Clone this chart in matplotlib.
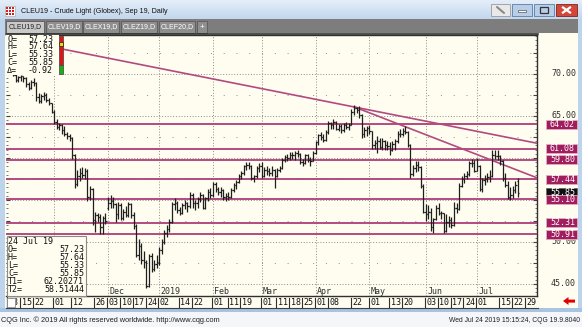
import numpy as np
import pandas as pd
import matplotlib
matplotlib.use("Agg")
import matplotlib.pyplot as plt
import matplotlib.transforms as mtransforms
from matplotlib.collections import LineCollection
from matplotlib.patches import Rectangle, Polygon
from matplotlib.colors import LinearSegmentedColormap
from matplotlib import font_manager

# ---------------- data (CLEU19, daily bars) ----------------
first_day, last_day = "2018-10-08", "2019-07-24"
holidays = ["2018-11-22", "2018-12-25", "2019-01-01", "2019-01-21",
            "2019-02-18", "2019-04-19", "2019-05-27", "2019-07-04"]

opens = [70.6, 70.5, 71.0, 69.9, 69.3, 69.6, 69.7, 69.5, 68.8, 68.3, 69.0, 68.9, 67.2, 66.8, 67.4, 67.5, 66.9, 66.5,
         65.5, 64.3, 63.7, 63.9, 63.3, 62.9, 62.6, 62.4, 60.3, 56.9, 57.9, 58.2, 58.0, 58.5, 55.3, 56.3, 52.6, 53.2, 53.0, 51.8, 52.8,
         54.0, 54.6, 54.9, 54.5, 53.3, 54.4, 52.9, 53.6, 53.2, 54.5, 53.2, 51.9, 48.5, 49.5, 47.9, 47.6, 44.8, 48.3, 46.8, 47.4,
         47.6, 49.0, 50.0, 51.1, 51.6, 52.4, 54.5, 54.7, 53.8, 53.5, 54.4, 54.6, 54.3, 55.6, 54.6, 54.7, 55.1, 55.6, 54.1, 55.2, 55.9,
         55.6, 56.9, 56.3, 55.9, 56.2, 55.3, 55.5, 55.3, 56.2, 56.8, 57.2, 57.9, 58.2, 59.0, 59.2, 59.0, 57.6, 57.8, 58.8,
         59.0, 57.9, 58.6, 58.5, 58.2, 58.6, 57.9, 58.6, 58.8, 59.8, 60.1, 60.0, 60.4, 60.3, 60.6, 60.5, 59.5, 59.4, 60.3, 59.8, 59.7,
         60.6, 61.9, 62.7, 62.5, 62.2, 63.1, 64.2, 64.0, 64.3, 63.5, 63.8, 63.3, 63.9, 63.7, 63.9, 65.5, 66.0, 65.7, 65.1, 62.8, 63.3,
         63.6, 63.2, 61.5, 61.8, 62.0, 61.3, 62.0, 61.5, 61.4, 60.9, 61.7, 62.0, 62.9, 62.8, 63.2, 63.1, 61.6, 58.1, 58.8, 59.2, 58.9, 56.7,
         53.6, 53.3, 53.6, 51.8, 52.7, 54.1, 53.4, 53.4, 51.3, 52.4, 52.6, 52.0, 54.0, 53.9, 56.7, 57.5, 57.9, 58.1, 59.4, 59.4,
         58.5, 59.1, 56.3, 57.4, 57.5, 57.7, 57.9, 60.4, 60.2, 60.2, 59.6, 57.6, 56.8, 55.3, 55.6, 56.2, 57.23]
highs = [71.2, 71.3, 71.1, 70.0, 69.8, 69.9, 69.8, 69.6, 69.0, 69.3, 69.5, 69.0, 67.7, 67.6, 67.8, 67.7, 67.1, 66.6,
         65.7, 64.6, 64.2, 64.0, 63.8, 63.1, 62.8, 62.5, 60.5, 58.6, 58.8, 58.9, 58.8, 58.7, 56.7, 56.4, 53.6, 53.5, 53.3, 53.1, 53.4,
         55.4, 55.6, 55.3, 54.7, 54.8, 54.6, 53.9, 54.3, 54.8, 54.6, 53.6, 52.1, 50.4, 49.9, 48.9, 47.9, 48.6, 48.7, 47.9, 48.4,
         49.4, 50.3, 51.4, 52.0, 52.7, 54.8, 55.2, 54.9, 54.2, 54.6, 55.0, 54.8, 55.9, 55.8, 55.0, 55.4, 55.9, 55.7, 55.4, 56.3, 56.4,
         57.1, 57.2, 56.6, 56.5, 56.3, 55.8, 56.0, 56.4, 57.0, 57.4, 58.1, 58.5, 59.2, 59.5, 59.5, 59.2, 58.0, 59.0, 59.4,
         59.5, 58.9, 59.0, 58.8, 59.0, 58.7, 58.8, 59.1, 60.0, 60.4, 60.5, 60.7, 60.7, 60.8, 60.9, 60.6, 59.9, 60.5, 60.5, 60.1, 60.8,
         62.0, 62.8, 63.1, 62.8, 63.3, 64.4, 64.3, 64.6, 64.4, 64.1, 64.0, 64.2, 64.3, 64.2, 65.8, 66.3, 66.1, 66.2, 65.2, 63.7, 63.8,
         63.9, 63.2, 62.2, 62.6, 62.4, 62.4, 62.2, 62.0, 61.9, 62.0, 62.3, 63.2, 63.4, 63.6, 63.8, 63.2, 61.7, 59.2, 59.6, 59.6, 59.0, 56.9,
         54.5, 54.4, 54.0, 52.9, 54.4, 54.6, 53.7, 53.5, 53.3, 53.1, 53.0, 54.8, 54.6, 57.0, 57.9, 58.2, 58.4, 59.6, 59.9, 59.8,
         60.0, 59.2, 57.6, 58.0, 58.2, 58.6, 60.9, 61.0, 60.9, 60.4, 59.8, 58.2, 57.3, 56.5, 56.7, 57.3, 57.64]
lows = [70.1, 70.2, 69.7, 69.0, 69.1, 69.2, 69.1, 68.5, 68.1, 68.2, 68.6, 66.8, 66.5, 66.6, 66.9, 66.7, 66.3, 65.3,
        64.0, 63.4, 63.3, 62.9, 62.6, 62.3, 62.0, 59.9, 56.4, 56.7, 57.3, 57.6, 57.5, 54.9, 55.0, 52.0, 51.2, 52.4, 50.9, 51.0, 52.2,
        53.8, 54.0, 54.0, 52.4, 52.7, 52.6, 52.6, 53.0, 53.0, 52.9, 51.6, 48.2, 47.9, 47.4, 46.9, 44.5, 44.6, 46.4, 46.6, 46.9,
        47.3, 48.6, 49.8, 50.6, 51.2, 52.3, 53.8, 53.5, 53.2, 53.3, 53.9, 53.6, 54.1, 54.0, 53.8, 54.1, 54.8, 53.9, 53.9, 54.9, 55.2,
        55.4, 56.0, 55.6, 55.4, 55.0, 54.9, 55.0, 55.2, 55.9, 56.3, 57.0, 57.5, 58.0, 58.6, 58.7, 57.4, 57.1, 57.6, 58.3,
        57.6, 57.7, 58.0, 57.9, 57.9, 56.4, 57.7, 58.3, 58.7, 59.5, 59.7, 59.8, 59.9, 59.8, 60.1, 59.3, 59.0, 59.3, 59.5, 59.1, 59.6,
        60.5, 61.6, 62.1, 61.9, 62.0, 62.9, 63.5, 63.5, 63.3, 63.2, 63.0, 63.1, 63.4, 63.3, 63.9, 65.1, 65.3, 64.8, 62.4, 62.5, 62.6,
        62.9, 61.1, 61.1, 60.6, 61.1, 61.0, 60.9, 61.0, 60.4, 60.8, 61.0, 61.8, 62.5, 62.6, 62.8, 61.3, 57.6, 57.8, 58.3, 58.4, 56.4, 53.4,
        52.5, 52.7, 51.3, 51.1, 52.6, 53.2, 52.7, 51.1, 51.2, 51.8, 51.7, 51.9, 53.5, 53.8, 56.6, 57.0, 57.5, 57.9, 58.9, 58.3,
        58.4, 56.1, 56.0, 56.8, 57.1, 57.2, 57.7, 59.9, 59.8, 59.2, 57.3, 56.6, 55.1, 55.0, 55.2, 55.8, 55.33]
closes = [70.5, 71.0, 69.9, 69.3, 69.6, 69.7, 69.5, 68.8, 68.3, 69.0, 68.9, 67.2, 66.8, 67.4, 67.5, 66.9, 66.5, 65.5,
          64.3, 63.7, 63.9, 63.3, 62.9, 62.6, 62.4, 60.3, 56.9, 57.9, 58.2, 58.0, 58.5, 55.3, 56.3, 52.6, 53.2, 53.0, 51.8, 52.8, 52.5,
          54.6, 54.9, 54.5, 53.3, 54.4, 52.9, 53.6, 53.2, 54.5, 53.2, 51.9, 48.5, 49.5, 47.9, 47.6, 44.8, 48.3, 46.8, 47.4, 47.5,
          49.0, 50.0, 51.1, 51.6, 52.4, 54.5, 54.7, 53.8, 53.5, 54.4, 54.6, 54.3, 55.6, 54.6, 54.7, 55.1, 55.6, 54.1, 55.2, 56.0, 55.6,
          56.9, 56.3, 55.9, 56.2, 55.3, 55.5, 55.3, 56.2, 56.8, 57.2, 57.9, 58.2, 59.0, 59.2, 59.0, 57.6, 57.8, 58.8, 59.0,
          57.9, 58.6, 58.5, 58.2, 58.6, 57.9, 58.6, 58.8, 59.8, 60.1, 60.0, 60.4, 60.3, 60.6, 60.5, 59.5, 59.4, 60.3, 59.8, 59.7, 60.6,
          61.9, 62.7, 62.5, 62.2, 63.1, 64.2, 63.9, 64.3, 63.5, 63.8, 63.3, 63.9, 63.7, 63.9, 65.5, 66.0, 65.7, 65.1, 62.8, 63.3, 63.6,
          63.2, 61.5, 61.8, 62.0, 61.3, 62.0, 61.5, 61.4, 60.9, 61.7, 62.0, 62.9, 62.8, 63.2, 63.1, 61.6, 58.1, 58.8, 59.2, 58.9, 56.7, 53.6,
          53.3, 53.6, 51.8, 52.7, 54.1, 53.4, 53.4, 51.3, 52.4, 52.6, 52.0, 54.0, 53.9, 56.7, 57.5, 57.9, 58.1, 59.4, 59.4, 58.5,
          59.1, 56.3, 57.4, 57.5, 57.7, 57.9, 60.4, 60.2, 60.2, 59.6, 57.6, 56.8, 55.3, 55.6, 56.2, 56.77, 55.85]

levels = [64.02, 61.08, 59.80, 57.44, 55.10, 52.31, 50.91]
last_price = 55.85
trend1 = [("2018-10-08", 74.25), ("2019-07-24", 62.20271)]
trend2 = [("2019-04-23", 66.09), ("2019-07-24", 58.51444)]
price_labels = [45, 50, 65, 70]          # 55 and 60 sit under the level boxes
month_starts = ["2018-11-01", "2018-12-03", "2019-01-02", "2019-02-01", "2019-03-01",
                "2019-04-01", "2019-05-01", "2019-06-03", "2019-07-01"]
month_names = ["", "Dec", "2019", "Feb", "Mar", "Apr", "May", "Jun", "Jul"]   # Nov hidden by the info box
day_marks = ["2018-10-08", "2018-10-15", "2018-10-22", "2018-11-01", "2018-11-12", "2018-11-26",
             "2018-12-03", "2018-12-10", "2018-12-17", "2018-12-24", "2019-01-02", "2019-01-14",
             "2019-01-22", "2019-02-01", "2019-02-11", "2019-02-19", "2019-03-01", "2019-03-11",
             "2019-03-18", "2019-03-25", "2019-04-01", "2019-04-08", "2019-04-22", "2019-05-01",
             "2019-05-13", "2019-05-20", "2019-06-03", "2019-06-10", "2019-06-17", "2019-06-24",
             "2019-07-01", "2019-07-15", "2019-07-22", "2019-07-29"]
tabs = ["CLEU19,D", "CLEV19,D", "CLEX19,D", "CLEZ19,D", "CLEF20,D", "+"]

# ---------------- fonts / styles ----------------
names = {f.name for f in font_manager.fontManager.ttflist}
UI = "Liberation Sans Narrow" if "Liberation Sans Narrow" in names else "Liberation Sans"
MONO = "DejaVu Sans Mono"
plt.rcParams["font.family"] = [UI, "DejaVu Sans"]
plt.rcParams["lines.scale_dashes"] = False

CREAM = "#FFFDEF"
MAG = "#B24A80"
MAGBOX = "#A01E5E"
GRID = "#8C8C8C"

# trading-day calendar (x axis = trading day number)
cal = pd.bdate_range(first_day, "2019-08-09")
cal = cal[~cal.isin(pd.to_datetime(holidays))]
pos = {d.strftime("%Y-%m-%d"): i for i, d in enumerate(cal)}
n = len(opens)
xs = np.arange(n)

W, H = 582, 327
fig = plt.figure(figsize=(W / 100, H / 100), dpi=100)
fig.patch.set_facecolor("#BED3EC")


def px_axes(z):
    a = fig.add_axes([0, 0, 1, 1], zorder=z)
    a.set_xlim(0, W)
    a.set_ylim(H, 0)
    a.axis("off")
    return a


def box(a, x0, y0, x1, y1, fc, ec="none", lw=0.0, z=1):
    a.add_patch(Rectangle((x0, y0), x1 - x0, y1 - y0, facecolor=fc,
                          edgecolor=ec, linewidth=lw, zorder=z))


def fit(t, width):
    r = fig.canvas.get_renderer()
    w = t.get_window_extent(r).width
    t.set_fontsize(t.get_fontsize() * width / w)


# ---------------- window chrome (background layer) ----------------
bg = px_axes(0)
grad = np.linspace(0, 1, 32).reshape(-1, 1)
bg.imshow(grad, extent=(0, W, 19, 0), aspect="auto", zorder=0,
          cmap=LinearSegmentedColormap.from_list("tb", ["#E4EEF9", "#C3D7EE"]))
bg.set_xlim(0, W)
bg.set_ylim(H, 0)

# app icon
box(bg, 5, 6, 15, 16, "white", "#B0B0B0", 0.5, 2)
for ix in range(3):
    for iy in range(3):
        box(bg, 6 + ix * 3.2, 7 + iy * 3.2, 8 + ix * 3.2, 9 + iy * 3.2, "#D42020", z=3)
t = bg.text(21, 11.5, "CLEU19 - Crude Light (Globex), Sep 19, Daily", fontsize=7,
            va="center", ha="left", color="#101010", zorder=3)
fit(t, 147)

# caption buttons
box(bg, 491, 4, 510, 16, "#E9E9E9", "#9A9A9A", 0.6, 2)
bg.plot([497, 504], [7, 13], color="#8A8A8A", lw=1.5, zorder=3, solid_capstyle="round")
for x0 in (512, 534):
    box(bg, x0, 4, x0 + 20, 16, "#B7CDE8", "#5B7CA5", 0.6, 2)
box(bg, 518, 10, 526, 11.5, "white", "#333", 0.4, 3)
box(bg, 540, 7, 548, 13, "none", "#333", 0.9, 3)
box(bg, 556, 4, 577, 16, "#D2473C", "#7E241C", 0.6, 2)
bg.plot([563, 570], [7.5, 12.5], color="white", lw=1.6, zorder=3)
bg.plot([563, 570], [12.5, 7.5], color="white", lw=1.6, zorder=3)

# tab strip
box(bg, 5, 19, 578, 33, "#7D7D7D", z=1)
tab_x = [(6, 44), (46, 82), (83, 119), (121, 157), (159, 195), (197, 207)]
for k, ((x0, x1), lab) in enumerate(zip(tab_x, tabs)):
    sel = k == 0
    box(bg, x0, 21, x1, 32.5, "#C9C9C9" if sel else "#8E8E8E", "#5A5A5A", 0.6, 2)
    t = bg.text((x0 + x1) / 2, 27, lab, ha="center", va="center", fontsize=6,
                color="#202020" if sel else "white", zorder=3)
    if lab != "+":
        fit(t, 33)

# chart panel, price scale, date strip, footer
box(bg, 5, 33, 578, 308, CREAM, z=1)
box(bg, 0, 308, W, 312, "#A9C3E2", z=1)
box(bg, 0, 312, W, H, "#F4F6F9", z=1)
bg.plot([6, 538], [34, 34], color="#303030", lw=1.2, zorder=3)
bg.plot([6, 537.5], [307.5, 307.5], color="#404040", lw=0.8, zorder=3)
bg.plot([6.5, 6.5], [296, 307.5], color="#404040", lw=0.8, zorder=3)
t = bg.text(1, 320, "CQG Inc. \u00a9 2019 All rights reserved worldwide. http://www.cqg.com",
            fontsize=6, va="center", ha="left", color="#202020", zorder=3)
fit(t, 222)
t = bg.text(580, 320, "Wed Jul 24 2019 15:15:24, CQG 19.9.8040",
            fontsize=6, va="center", ha="right", color="#202020", zorder=3)
fit(t, 131)
bg.add_patch(Polygon([[563, 301], [568.5, 297], [568.5, 299.6], [575, 299.6], [575, 302.6],
                      [568.5, 302.6], [568.5, 305]], closed=True, facecolor="#E40000",
                     edgecolor="none", zorder=3))

# ---------------- price chart ----------------
ax = fig.add_axes([6 / W, 1 - 296 / H, 531 / W, 261 / H], zorder=1)
ax.set_facecolor(CREAM)
ax.set_xlim(-0.78, 206.4)
ax.set_ylim(43.57, 74.64)
bx = mtransforms.blended_transform_factory(ax.transData, bg.transData)   # x data, y pixels
by = mtransforms.blended_transform_factory(bg.transData, ax.transData)   # x pixels, y data

for s in ("top", "right", "bottom"):
    ax.spines[s].set_color("#303030")
    ax.spines[s].set_linewidth(1.0)
ax.spines["left"].set_visible(False)
ax.set_xticks([])
ax.set_yticks(np.arange(45, 75, 2.5))
ax.set_yticks(np.arange(44, 74.6, 0.5), minor=True)
ax.yaxis.set_ticks_position("both")
ax.tick_params(axis="y", which="major", direction="in", length=3, width=0.8,
               color="#404040", labelleft=False, labelright=False)
ax.tick_params(axis="y", which="minor", direction="in", length=1.5, width=0.6, color="#606060")

# grid
for p in np.arange(45, 75, 5):
    ax.axhline(p, color=GRID, lw=0.7, ls=(0, (0.7, 1.3)), zorder=1)
for p in np.arange(47.5, 75, 5):
    ax.axhline(p, color=GRID, lw=0.7, ls=(0, (0.7, 8.5)), zorder=1)
for d, lab in zip(month_starts, month_names):
    ax.axvline(pos[d], color=GRID, lw=0.7, ls=(0, (0.7, 1.3)), zorder=1)
    if lab:
        ax.text(pos[d] + 0.5, 292, lab, transform=bx, fontsize=6, family=MONO,
                color="#303030", ha="left", va="center", zorder=2)

# support / resistance lines and trend lines
for lv in levels:
    ax.axhline(lv, color=MAG, lw=1.4, zorder=3)
x_right = ax.get_xlim()[1]
for (d1, p1), (d2, p2) in (trend1, trend2):
    i1, i2 = pos[d1], pos[d2]
    slope = (p2 - p1) / (i2 - i1)
    ax.plot([i1, x_right], [p1, p2 + slope * (x_right - i2)], color=MAG, lw=1.2, zorder=3)

# OHLC bars
segs = [[(i, l), (i, h)] for i, l, h in zip(xs, lows, highs)]
segs += [[(i - 0.5, o), (i, o)] for i, o in zip(xs, opens)]
segs += [[(i, c), (i + 0.5, c)] for i, c in zip(xs, closes)]
ax.add_collection(LineCollection(segs, colors="#1E1E1E", linewidths=0.9, zorder=4))

# price scale labels
for p in price_labels:
    ax.text(576, p, f"{p:.2f}", transform=by, fontsize=6, family=MONO, color="#303030",
            ha="right", va="center", clip_on=False, zorder=5)
ax.add_patch(Rectangle((546, last_price - 0.54), 31, 1.08, transform=by, facecolor="#101010",
                       edgecolor="#606060", linewidth=0.5, clip_on=False, zorder=6))
ax.text(575, last_price, f"{last_price:.2f}", transform=by, fontsize=6, family=MONO,
        color="white", ha="right", va="center", clip_on=False, zorder=7)
for lv in levels:
    ax.add_patch(Rectangle((546, lv - 0.54), 31, 1.08, transform=by, facecolor=MAGBOX,
                           edgecolor="#E3A9C6", linewidth=0.6, clip_on=False, zorder=8))
    ax.text(575, lv, f"{lv:.2f}", transform=by, fontsize=6, family=MONO, color="white",
            ha="right", va="center", clip_on=False, zorder=9)

# date strip
for d in day_marks:
    i = pos[d]
    ax.plot([i - 0.3, i - 0.3], [297.5, 307], transform=bx, color="#303030", lw=0.8,
            clip_on=False, zorder=5)
    ax.text(i + 0.3, 302.5, d[-2:], transform=bx, fontsize=6, family=MONO, color="#101010",
            ha="left", va="center", clip_on=False, zorder=5)

# ---------------- overlays (info boxes) ----------------
fg = px_axes(2)
box(fg, 6, 35, 58.5, 75, CREAM, z=1)
info = [("O=", opens[-1]), ("H=", highs[-1]), ("L=", lows[-1]), ("C=", closes[-1]),
        ("\u0394=", closes[-1] - closes[-2])]
for k, (lab, v) in enumerate(info):
    y = 39 + k * 7.8
    fg.text(7, y, lab, fontsize=6, family=MONO, va="center", ha="left", color="#101010", zorder=2)
    fg.text(53, y, f"{v:.2f}", fontsize=6, family=MONO, va="center", ha="right",
            color="#101010", zorder=2)
box(fg, 59, 35.5, 62.5, 65, "#E01515", "#404040", 0.5, 2)
box(fg, 59, 65, 62.5, 73.5, "#18B018", "#404040", 0.5, 2)
box(fg, 58.5, 42, 63, 45.5, "#F2D21C", "#202020", 0.5, 3)

box(fg, 7, 236, 85.5, 296, CREAM, "#8A8A8A", 0.8, 1)
rows = [("O=", f"{opens[-1]:.2f}"), ("H=", f"{highs[-1]:.2f}"), ("L=", f"{lows[-1]:.2f}"),
        ("C=", f"{closes[-1]:.2f}"), ("T1=", "62.20271"), ("T2=", "58.51444")]
fg.text(8, 242, "24 Jul 19", fontsize=6, family=MONO, va="center", ha="left",
        color="#101010", zorder=2)
for k, (lab, v) in enumerate(rows):
    y = 249.6 + k * 8.0
    fg.text(8, y, lab, fontsize=6, family=MONO, va="center", ha="left", color="#101010", zorder=2)
    fg.text(84, y, v, fontsize=6, family=MONO, va="center", ha="right", color="#101010", zorder=2)

# small square at the start of the date strip
box(fg, 7, 297.5, 15, 307, "white", "#8A8A8A", 0.6, 2)

fig.savefig("out.png", dpi=100, facecolor=fig.get_facecolor())
